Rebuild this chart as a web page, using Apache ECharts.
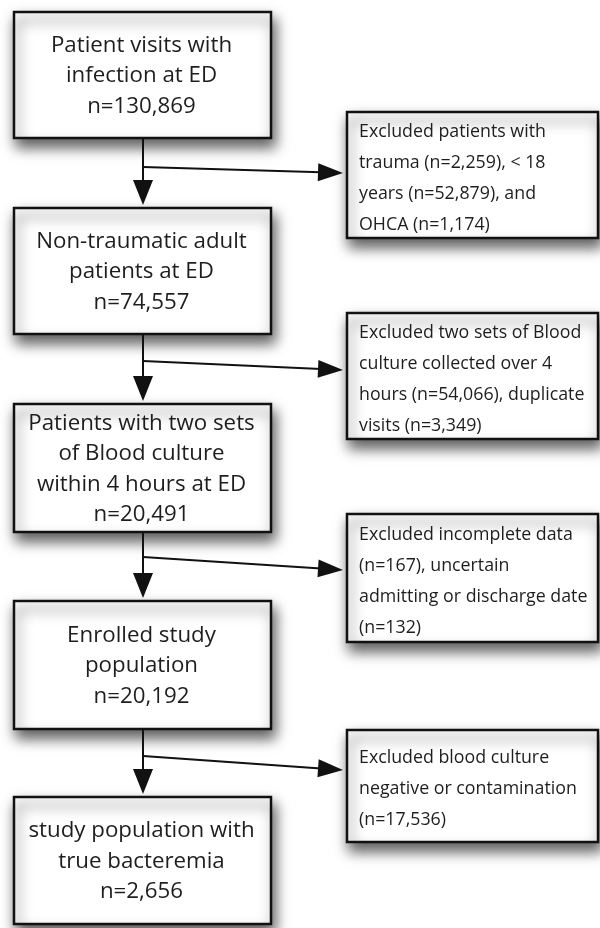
<!DOCTYPE html>
<html>
<head>
<meta charset="utf-8">
<script src="https://cdn.jsdelivr.net/npm/echarts@6/dist/echarts.min.js"></script>
<style>
  html, body { margin: 0; padding: 0; background: #ffffff; }
  #chart { width: 600px; height: 928px; }
</style>
</head>
<body>
<div id="chart"></div>
<script>
// ---------- DATA ----------
const stageTitles = [
  'Patient visits with\ninfection at ED',
  'Non-traumatic adult\npatients at ED',
  'Patients with two sets\nof Blood culture\nwithin 4 hours at ED',
  'Enrolled study\npopulation',
  'study population with\ntrue bacteremia'
];
const stageCounts = [130869, 74557, 20491, 20192, 2656];
const exclusionLines = [
  ['Excluded patients with', 'trauma (n=2,259), < 18', 'years (n=52,879), and', 'OHCA (n=1,174)'],
  ['Excluded two sets of Blood', 'culture collected over 4', 'hours (n=54,066), duplicate', 'visits (n=3,349)'],
  ['Excluded incomplete data', '(n=167), uncertain', 'admitting or discharge date', '(n=132)'],
  ['Excluded blood culture', 'negative or contamination', '(n=17,536)']
];

// ---------- LAYOUT (chart units, 1 unit = 1 px) ----------
const stageX = [14, 271];
const stageTop = [12, 208, 404, 601, 797];
const stageBottom = [138, 334, 532, 729, 924];
const exclX = [347, 598];
const exclTop = [112, 313, 514, 730];
const exclBottom = [238, 439, 642, 842];
const trunkX = 143;
const branchStartY = [167, 361, 557, 756];
const branchTipX = 343;
const branchTipY = [173, 370, 570, 770];

const FONT = '"Open Sans", Lato, sans-serif';
const LINE = '#111111';
const TEXT = '#1e1e1e';

function fmt(n) { return 'n=' + n.toLocaleString('en-US'); }

const stageData = stageTitles.map((t, i) => [stageX[0], stageTop[i], stageX[1], stageBottom[i], i]);
const exclData = exclusionLines.map((l, i) => [exclX[0], exclTop[i], exclX[1], exclBottom[i], i]);
const connData = branchStartY.map((y, i) => [trunkX, stageBottom[i], stageTop[i + 1], y, branchTipX, branchTipY[i], i]);

function boxShape(api) {
  const p0 = api.coord([api.value(0), api.value(1)]);
  const p1 = api.coord([api.value(2), api.value(3)]);
  return { x: p0[0], y: p0[1], width: p1[0] - p0[0], height: p1[1] - p0[1] };
}
const boxStyle = {
  fill: '#ffffff', stroke: LINE, lineWidth: 2.5,
  shadowBlur: 13, shadowOffsetX: 3, shadowOffsetY: 8, shadowColor: 'rgba(0,0,0,0.65)'
};

function renderStage(params, api) {
  const s = boxShape(api);
  const i = api.value(4);
  return {
    type: 'group',
    children: [
      { type: 'rect', shape: s, style: boxStyle },
      { type: 'text', z2: 10, style: {
          text: stageTitles[i] + '\n' + fmt(stageCounts[i]),
          x: s.x + s.width / 2 - 1, y: s.y + s.height / 2 + 1,
          align: 'center', verticalAlign: 'middle',
          fontFamily: FONT, fontSize: 22.3, lineHeight: 30.5, fill: TEXT
      } }
    ]
  };
}
function renderExcl(params, api) {
  const s = boxShape(api);
  const i = api.value(4);
  return {
    type: 'group',
    children: [
      { type: 'rect', shape: s, style: boxStyle },
      { type: 'text', z2: 10, style: {
          text: exclusionLines[i].join('\n'),
          x: s.x + 12, y: s.y + s.height / 2 + 3,
          align: 'left', verticalAlign: 'middle',
          fontFamily: FONT, fontSize: 17.8, lineHeight: 31, fill: TEXT
      } }
    ]
  };
}
function renderConn(params, api) {
  const top = api.coord([api.value(0), api.value(1)]);
  const bot = api.coord([api.value(0), api.value(2)]);
  const bs = api.coord([api.value(0), api.value(3)]);
  const tip = api.coord([api.value(4), api.value(5)]);
  const dTip = [bot[0], bot[1] - 3];
  const dx = tip[0] - bs[0], dy = tip[1] - bs[1];
  const len = Math.sqrt(dx * dx + dy * dy);
  const ux = dx / len, uy = dy / len;
  const hl = 25, hw = 9;
  const bx = tip[0] - ux * hl, by = tip[1] - uy * hl;
  return {
    type: 'group',
    children: [
      { type: 'line', shape: { x1: top[0], y1: top[1], x2: dTip[0], y2: dTip[1] - 20 },
        style: { stroke: LINE, lineWidth: 2 } },
      { type: 'polygon', shape: { points: [[dTip[0], dTip[1]], [dTip[0] - 10, dTip[1] - 25], [dTip[0] + 10, dTip[1] - 25]] },
        style: { fill: LINE } },
      { type: 'line', shape: { x1: bs[0], y1: bs[1], x2: bx + ux * 3, y2: by + uy * 3 },
        style: { stroke: LINE, lineWidth: 2 } },
      { type: 'polygon', shape: { points: [[tip[0], tip[1]], [bx - uy * hw, by + ux * hw], [bx + uy * hw, by - ux * hw]] },
        style: { fill: LINE } }
    ]
  };
}

const chart = echarts.init(document.getElementById('chart'), null, { renderer: 'canvas' });
chart.setOption({
  backgroundColor: '#ffffff',
  animation: false,
  grid: { left: 0, right: 0, top: 0, bottom: 0 },
  xAxis: { type: 'value', min: 0, max: 600, show: false },
  yAxis: { type: 'value', min: 0, max: 928, inverse: true, show: false },
  series: [
    { type: 'custom', name: 'stages', renderItem: renderStage, data: stageData, z: 2, silent: true },
    { type: 'custom', name: 'exclusions', renderItem: renderExcl, data: exclData, z: 2, silent: true },
    { type: 'custom', name: 'connectors', renderItem: renderConn, data: connData, z: 3, silent: true }
  ]
});
</script>
</body>
</html>
